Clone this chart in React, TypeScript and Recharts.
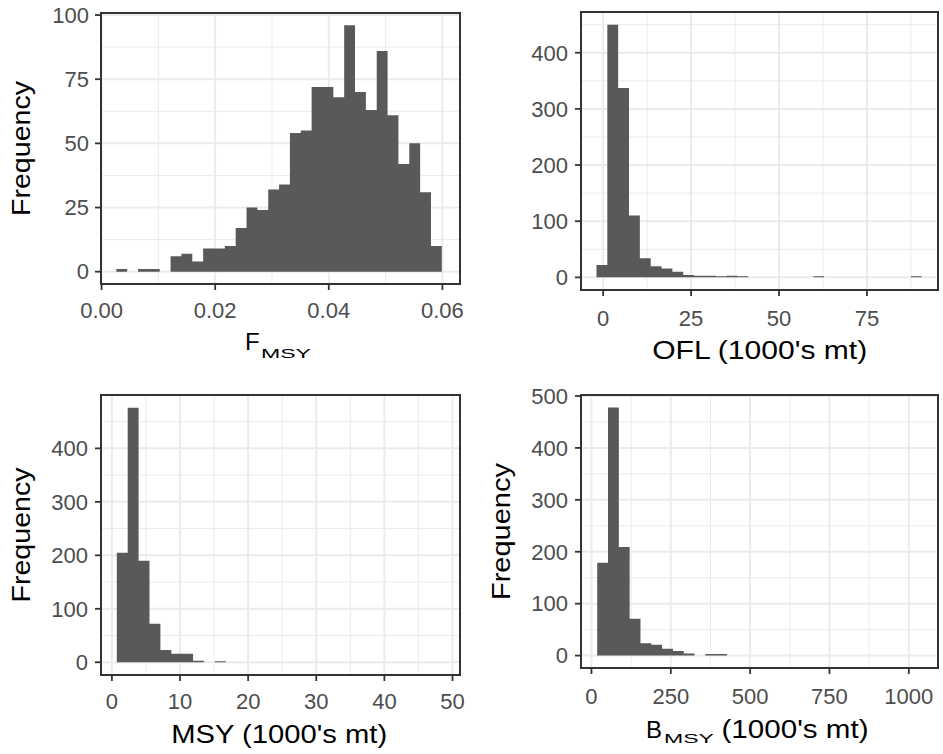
import React from 'react';
import { ComposedChart, Area, XAxis, YAxis, CartesianGrid, ReferenceArea } from 'recharts';

const FONT = '"Liberation Sans", Arial, Helvetica, sans-serif';
const BAR_FILL = '#595959';
const GRID = '#EBEBEB';
const DARK = '#333333';
const TICK_TEXT = '#4D4D4D';

// ---------- Panel A: F_MSY ----------
const fmsyBinStart = 0.0026;
const fmsyBinWidth = 0.00191;
const fmsyCounts = [1, 0, 1, 1, 0, 6, 7, 4, 9, 9, 10, 17, 25, 24, 32, 34, 54, 55, 72, 72, 68, 96, 70, 63, 86, 61, 42, 50, 31, 10];
const fmsyXDomain = [-0.0001, 0.0631];
const fmsyYDomain = [-4.8, 100.8];
const fmsyXTicks = [0, 0.02, 0.04, 0.06];
const fmsyXMinor = [0.01, 0.03, 0.05];
const fmsyYTicks = [0, 25, 50, 75, 100];
const fmsyYMinor = [12.5, 37.5, 62.5, 87.5];

// ---------- Panel B: OFL ----------
const oflBinStart = -1.9;
const oflBinWidth = 3.083;
const oflCounts = [22, 450, 337, 110, 34, 20, 16, 10, 4, 3, 3, 2, 3, 2, 0, 0, 0, 0, 0, 0, 2, 0, 0, 0, 0, 0, 0, 0, 0, 2];
const oflXDomain = [-6.3, 95.2];
const oflYDomain = [-22.5, 472.5];
const oflXTicks = [0, 25, 50, 75];
const oflXMinor = [12.5, 37.5, 62.5, 87.5];
const oflYTicks = [0, 100, 200, 300, 400];
const oflYMinor = [50, 150, 250, 350, 450];

// ---------- Panel C: MSY ----------
const msyBinStart = 0.72;
const msyBinWidth = 1.6;
const msyCounts = [205, 476, 190, 72, 23, 16, 16, 3, 0, 2, 0, 0, 0, 0, 0, 0, 0, 0, 0, 0, 0, 0, 0, 0, 0, 0, 0, 0, 0, 0];
const msyXDomain = [-1.6, 51.1];
const msyYDomain = [-23.8, 499.8];
const msyXTicks = [0, 10, 20, 30, 40, 50];
const msyXMinor = [5, 15, 25, 35, 45];
const msyYTicks = [0, 100, 200, 300, 400];
const msyYMinor = [50, 150, 250, 350, 450];

// ---------- Panel D: B_MSY ----------
const bmsyBinStart = 18;
const bmsyBinWidth = 34.1;
const bmsyCounts = [179, 478, 209, 71, 24, 21, 13, 9, 4, 0, 3, 3, 0, 0, 0, 0, 0, 0, 0, 0, 0, 0, 0, 0, 0, 0, 0, 0, 0, 0];
const bmsyXDomain = [-33, 1092];
const bmsyYDomain = [-23.9, 501.9];
const bmsyXTicks = [0, 250, 500, 750, 1000];
const bmsyXMinor = [125, 375, 625, 875];
const bmsyYTicks = [0, 100, 200, 300, 400, 500];
const bmsyYMinor = [50, 150, 250, 350, 450];

function toSteps(start: number, width: number, counts: number[]) {
  const rows = counts.map((c, i) => ({ x: start + i * width, count: c }));
  rows.push({ x: start + counts.length * width, count: counts[counts.length - 1] });
  return rows;
}

type PanelProps = {
  left: number;
  top: number;
  width: number;
  height: number;
  margin: { top: number; right: number; bottom: number; left: number };
  yAxisWidth: number;
  xAxisHeight: number;
  xTickMargin: number;
  yTickMargin: number;
  data: { x: number; count: number }[];
  xDomain: number[];
  yDomain: number[];
  xTicks: number[];
  xMinor: number[];
  yTicks: number[];
  yMinor: number[];
  xFormat?: (v: number) => string;
  xTitle: React.ReactNode;
  yTitle?: React.ReactNode;
};

const tickStyle = { fill: TICK_TEXT, fontSize: 22, fontFamily: FONT };
const tickLineStyle = { stroke: DARK, strokeWidth: 1.8 };

function Panel(p: PanelProps) {
  return (
    <div style={{ position: 'absolute', left: p.left, top: p.top, width: p.width, height: p.height }}>
      <ComposedChart width={p.width} height={p.height} data={p.data} margin={p.margin}>
        <XAxis xAxisId="minor" type="number" dataKey="x" domain={p.xDomain} ticks={p.xMinor} allowDataOverflow hide />
        <YAxis yAxisId="minor" type="number" domain={p.yDomain} ticks={p.yMinor} allowDataOverflow hide />
        <CartesianGrid xAxisId="minor" yAxisId="minor" stroke={GRID} strokeWidth={1} />
        <CartesianGrid stroke={GRID} strokeWidth={2} />
        <XAxis
          type="number"
          dataKey="x"
          domain={p.xDomain}
          ticks={p.xTicks}
          allowDataOverflow
          interval={0}
          height={p.xAxisHeight}
          tickSize={6}
          tickMargin={p.xTickMargin}
          axisLine={false}
          tickLine={tickLineStyle}
          tick={tickStyle}
          tickFormatter={p.xFormat}
          label={() => p.xTitle}
        />
        <YAxis
          type="number"
          domain={p.yDomain}
          ticks={p.yTicks}
          allowDataOverflow
          interval={0}
          width={p.yAxisWidth}
          tickSize={6}
          tickMargin={p.yTickMargin}
          axisLine={false}
          tickLine={tickLineStyle}
          tick={tickStyle}
          label={p.yTitle ? () => p.yTitle : undefined}
        />
        <Area
          type="stepAfter"
          dataKey="count"
          stroke="none"
          fill={BAR_FILL}
          fillOpacity={1}
          baseValue={0}
          dot={false}
          activeDot={false}
          isAnimationActive={false}
        />
        <ReferenceArea
          x1={p.xDomain[0]}
          x2={p.xDomain[1]}
          y1={p.yDomain[0]}
          y2={p.yDomain[1]}
          fill="none"
          fillOpacity={0}
          stroke={DARK}
          strokeWidth={2}
          ifOverflow="visible"
        />
      </ComposedChart>
    </div>
  );
}

const titleStyle = { fontFamily: FONT, fill: '#000000' };

function FreqTitle({ x, y, len }: { x: number; y: number; len: number }) {
  return (
    <text
      x={x}
      y={y}
      transform={`rotate(-90 ${x} ${y})`}
      textAnchor="middle"
      fontSize={25}
      textLength={len}
      lengthAdjust="spacingAndGlyphs"
      style={titleStyle}
    >
      Frequency
    </text>
  );
}

export default function App() {
  return (
    <div style={{ position: 'absolute', left: 0, top: 0, width: 943, height: 754, background: '#ffffff', fontFamily: FONT }}>
      <Panel
        left={0}
        top={0}
        width={470}
        height={377}
        margin={{ top: 13, right: 10, bottom: 0, left: 0 }}
        yAxisWidth={101}
        xAxisHeight={93}
        xTickMargin={12}
        yTickMargin={6}
        data={toSteps(fmsyBinStart, fmsyBinWidth, fmsyCounts)}
        xDomain={fmsyXDomain}
        yDomain={fmsyYDomain}
        xTicks={fmsyXTicks}
        xMinor={fmsyXMinor}
        yTicks={fmsyYTicks}
        yMinor={fmsyYMinor}
        xFormat={(v: number) => v.toFixed(2)}
        xTitle={
          <g>
            <text x={245} y={350} fontSize={24} style={titleStyle}>F</text>
            <text x={261} y={357.5} fontSize={13} textLength={50} lengthAdjust="spacingAndGlyphs" style={titleStyle}>MSY</text>
          </g>
        }
        yTitle={<FreqTitle x={30} y={148.5} len={135} />}
      />
      <Panel
        left={470}
        top={0}
        width={473}
        height={377}
        margin={{ top: 12, right: 5, bottom: 0, left: 0 }}
        yAxisWidth={111}
        xAxisHeight={87}
        xTickMargin={14}
        yTickMargin={7}
        data={toSteps(oflBinStart, oflBinWidth, oflCounts)}
        xDomain={oflXDomain}
        yDomain={oflYDomain}
        xTicks={oflXTicks}
        xMinor={oflXMinor}
        yTicks={oflYTicks}
        yMinor={oflYMinor}
        xTitle={
          <text x={289.7} y={359} textAnchor="middle" fontSize={25} textLength={215} lengthAdjust="spacingAndGlyphs" style={titleStyle}>
            OFL (1000's mt)
          </text>
        }
      />
      <Panel
        left={0}
        top={377}
        width={470}
        height={377}
        margin={{ top: 18, right: 10, bottom: 0, left: 0 }}
        yAxisWidth={101}
        xAxisHeight={79}
        xTickMargin={12}
        yTickMargin={7}
        data={toSteps(msyBinStart, msyBinWidth, msyCounts)}
        xDomain={msyXDomain}
        yDomain={msyYDomain}
        xTicks={msyXTicks}
        xMinor={msyXMinor}
        yTicks={msyYTicks}
        yMinor={msyYMinor}
        xTitle={
          <text x={279.2} y={366} textAnchor="middle" fontSize={25} textLength={216} lengthAdjust="spacingAndGlyphs" style={titleStyle}>
            MSY (1000's mt)
          </text>
        }
        yTitle={<FreqTitle x={30} y={158} len={135} />}
      />
      <Panel
        left={470}
        top={377}
        width={473}
        height={377}
        margin={{ top: 18, right: 5, bottom: 0, left: 0 }}
        yAxisWidth={111}
        xAxisHeight={86}
        xTickMargin={14}
        yTickMargin={7}
        data={toSteps(bmsyBinStart, bmsyBinWidth, bmsyCounts)}
        xDomain={bmsyXDomain}
        yDomain={bmsyYDomain}
        xTicks={bmsyXTicks}
        xMinor={bmsyXMinor}
        yTicks={bmsyYTicks}
        yMinor={bmsyYMinor}
        xTitle={
          <g>
            <text x={176} y={361} fontSize={24} style={titleStyle}>B</text>
            <text x={194} y={366} fontSize={13} textLength={50} lengthAdjust="spacingAndGlyphs" style={titleStyle}>MSY</text>
            <text x={251.5} y={361} fontSize={25} textLength={147} lengthAdjust="spacingAndGlyphs" style={titleStyle}>(1000's mt)</text>
          </g>
        }
        yTitle={<FreqTitle x={40} y={154.5} len={137} />}
      />
    </div>
  );
}
